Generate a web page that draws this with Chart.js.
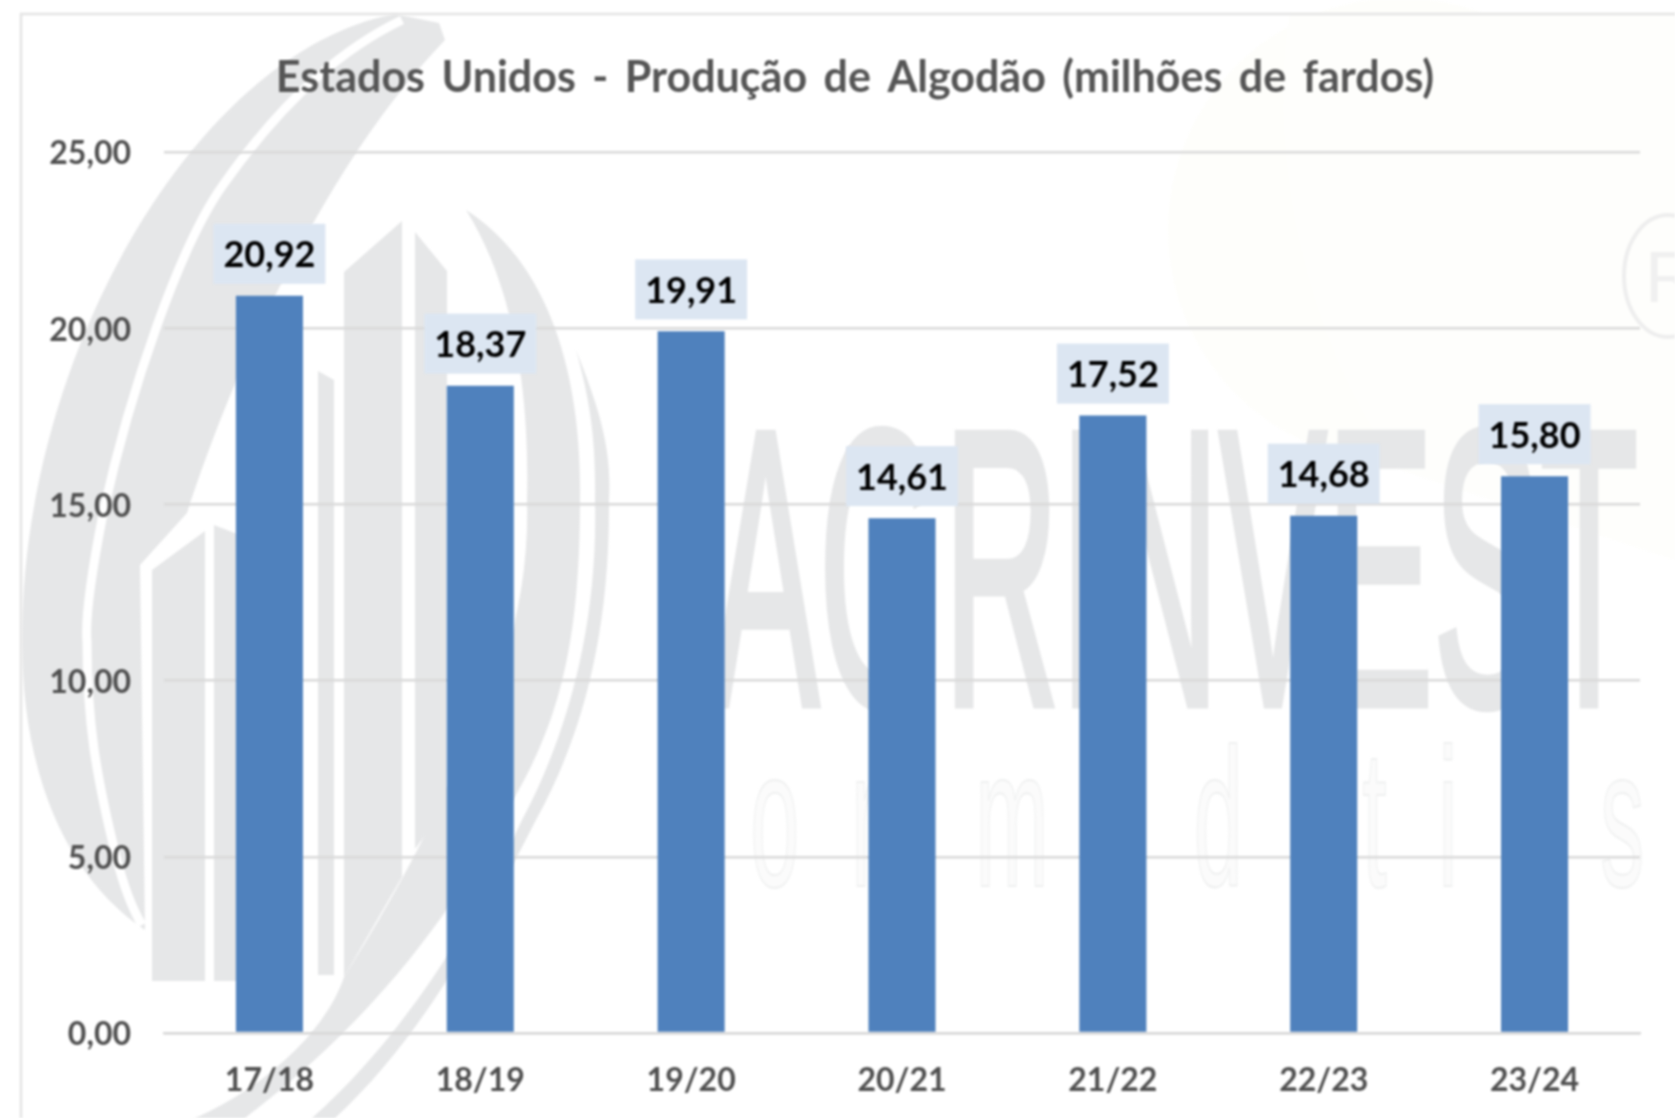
<!DOCTYPE html>
<html lang="pt">
<head>
<meta charset="utf-8">
<title>Estados Unidos - Produção de Algodão</title>
<script src="https://cdn.jsdelivr.net/npm/chart.js@4"></script>
<style>
html,body{margin:0;padding:0;background:#fff;width:1675px;height:1118px;overflow:hidden}
#wm{position:absolute;left:0;top:0;width:1675px;height:1118px;filter:blur(1.3px)}
#wrap{position:absolute;left:0;top:0;width:1675px;height:1118px;filter:blur(0.9px)}
canvas{display:block}
</style>
</head>
<body>
<svg id="wm" viewBox="0 0 1675 1118" xmlns="http://www.w3.org/2000/svg" aria-hidden="true">
  <circle cx="1400" cy="230" r="232" fill="#fefefb"/>
  <path d="M1290 13 C1270 120 1290 320 1400 470 L1675 560 L1675 13 Z" fill="#fefefc"/>
  <ellipse cx="1668" cy="276" rx="44" ry="61" fill="none" stroke="#eeeeee" stroke-width="4"/>
  <text x="1645" y="302" font-family="Liberation Sans" font-size="72" fill="#f0f0f0">R</text>
  <g fill="#e6e7e8">
    <path d="M395 14 C200 50 22 350 22 640 C22 780 70 880 145 930 L140 565 L187 513 C230 380 320 170 445 40 L439 23 Z"/>
    <path d="M152 570 L205 531 L205 981 L152 981 Z"/>
    <path d="M214 525 L240 535 L240 981 L214 981 Z"/>
    <path d="M318 371 L334 380 L334 975 L318 975 Z"/>
    <path d="M344 272 L402 221 L402 877 L344 977 Z"/>
    <path d="M415 232 L447 271 L447 806 L415 849 Z"/>
    <path d="M466 210 C560 270 582 400 580 500 C580 640 560 720 513 800 C470 880 400 1000 245 1118 L195 1118 C280 1080 330 1020 344 977 C380 920 420 850 446 790 C500 700 530 600 527 500 C530 380 510 280 466 210 Z"/>
    <path d="M576 350 C600 410 612 450 609 500 C610 640 580 740 536 820 C480 930 420 1040 335 1118 L312 1118 C400 1040 470 930 522 820 C570 730 598 620 595 500 C596 440 590 400 576 350 Z"/>
  </g>
  <path d="M402 20 C350 45 290 90 223 185 C180 245 130 390 103 514 C92 570 85 620 87 642 C87 690 90 720 94 749 C100 790 112 840 116 856 C122 880 130 905 142 925" fill="none" stroke="#ffffff" stroke-width="9"/>
  <text x="712" y="704" font-family="Liberation Sans" font-size="392" textLength="926" lengthAdjust="spacingAndGlyphs" fill="#e6e7e8" stroke="#e6e7e8" stroke-width="9">AGRINVEST</text>
  <g transform="scale(0.45,1)">
    <text y="886" font-family="Liberation Sans" font-size="196" fill="#fbfbfb" stroke="#eff0f0" stroke-width="2"
      x="1478 1667 1891 2167 2433 2653 2911 3027 3196 3356 3556">commodities</text>
  </g>
</svg>
<div id="wrap"><canvas id="chart" width="1675" height="1118"></canvas></div>
<script>
const categories = ['17/18','18/19','19/20','20/21','21/22','22/23','23/24'];
const producao = [20.92,18.37,19.91,14.61,17.52,14.68,15.80];
const yTicks = [0,5,10,15,20,25];
const tituloGrafico = 'Estados Unidos - Produção de Algodão (milhões de fardos)';

const fmt = v => v.toFixed(2).replace('.', ',');
const FONT = 'Lato, "Open Sans", sans-serif';

const frame = {
  id: 'frame',
  afterLayout(c) {
    c.titleBlock.left += 35;
    c.titleBlock.right += 35;
  },
  beforeDraw(c) {
    const x = c.ctx;
    x.wordSpacing = '6px';
    x.save();
    x.strokeStyle = '#e4e4e4';
    x.lineWidth = 2.5;
    x.strokeRect(21, 14, 1800, 1300);
    x.restore();
  }
};

const valueLabels = {
  id: 'valueLabels',
  afterDatasetsDraw(c) {
    const x = c.ctx;
    const meta = c.getDatasetMeta(0);
    x.save();
    x.font = '700 36px ' + FONT;
    x.textAlign = 'center';
    x.textBaseline = 'middle';
    meta.data.forEach((bar, i) => {
      const t = fmt(producao[i]);
      const w = x.measureText(t).width + 20;
      const h = 60;
      const bottom = bar.y - 12;
      x.fillStyle = '#dce6f2';
      x.fillRect(bar.x - w / 2, bottom - h, w, h);
      x.fillStyle = '#000000';
      x.fillText(t, bar.x, bottom - h / 2 + 2);
    });
    x.restore();
  }
};

new Chart(document.getElementById('chart'), {
  type: 'bar',
  data: {
    labels: categories,
    datasets: [{
      data: producao,
      backgroundColor: '#4f81bd',
      borderWidth: 0,
      barPercentage: 0.318,
      categoryPercentage: 1
    }]
  },
  plugins: [frame, valueLabels],
  options: {
    responsive: false,
    animation: false,
    layout: { padding: { left: 0, right: 35, top: 0, bottom: 0 } },
    plugins: {
      legend: { display: false },
      tooltip: { enabled: false },
      title: {
        display: true,
        text: tituloGrafico,
        color: '#555555',
        font: { family: FONT, size: 43, weight: '700' },
        padding: { top: 52, bottom: 48.4 }
      }
    },
    scales: {
      x: {
        grid: { display: false },
        border: { color: '#d9d9d9', width: 2.5 },
        ticks: { color: '#4f4f4f', padding: 20, font: { family: FONT, size: 32, weight: '700' }, maxRotation: 0 },
        afterFit(s) { s.height = 85; }
      },
      y: {
        min: 0,
        max: 25,
        afterBuildTicks(s) { s.ticks = yTicks.map(v => ({ value: v })); },
        grid: { color: '#d9d9d9', lineWidth: 2.5, drawTicks: false },
        border: { display: false },
        ticks: { color: '#4f4f4f', padding: 33, labelOffset: 2, font: { family: FONT, size: 32, weight: '700' }, callback: v => fmt(v) },
        afterFit(s) { s.width = 164; }
      }
    }
  }
});
</script>
</body>
</html>
